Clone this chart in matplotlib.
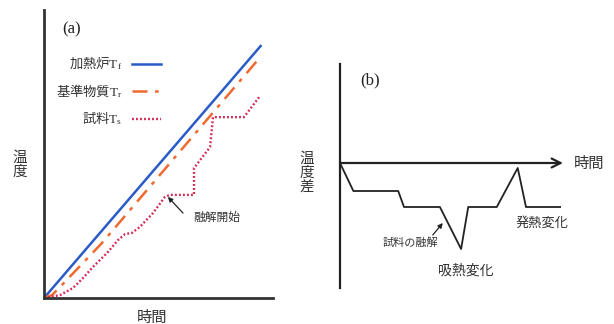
import matplotlib
matplotlib.use("Agg")
import matplotlib.pyplot as plt

plt.rcParams['font.family'] = ['Noto Sans CJK JP', 'DejaVu Sans']
plt.rcParams['mathtext.fontset'] = 'custom'
plt.rcParams['mathtext.rm'] = 'Liberation Serif'
plt.rcParams['mathtext.it'] = 'Liberation Serif:italic'

# (a) temperatures vs. time
furnace_t = [0, 94.6]
furnace_T = [0, 87.5]

reference_t = [0, 3.5, 8.3, 25.2, 94.6]
reference_T = [0, 1.0, 4.9, 19.0, 83.8]

sample_t = [0, 7.0, 12.7, 17.0, 21.4, 27.5, 32.3, 35.4, 38.4, 41.9, 47.6,
            52.8, 55.0, 65.5, 65.5, 72.5, 73.8, 87.3, 94.3]
sample_T = [0, 1.0, 3.5, 6.9, 10.8, 15.6, 20.1, 22.2, 22.6, 24.7, 29.5,
            35.1, 35.8, 35.8, 45.1, 52.4, 62.8, 62.8, 70.1]

labels_a = ["加熱炉$\\mathrm{T_f}$", "基準物質$\\mathrm{T_r}$", "試料$\\mathrm{T_s}$"]

# (b) temperature difference vs. time
dta_t = [0, 6.0, 26.1, 28.7, 44.8, 54.3, 57.5, 70.3, 79.7, 83.4, 98.7]
dta_dT = [0, -2.8, -2.8, -4.4, -4.4, -8.6, -4.4, -4.4, -0.5, -4.4, -4.4]

W, H = 614, 324
fig = plt.figure(figsize=(W / 100, H / 100), dpi=100)
fig.patch.set_facecolor('white')


def px_axes(x0, y0, x1, y1):
    return fig.add_axes([x0 / W, 1 - y1 / H, (x1 - x0) / W, (y1 - y0) / H])


axis_col = '#333333'

# ---------------- panel (a) ----------------
ax = px_axes(44, 10, 273, 298)
ax.set_xlim(0, 100)
ax.set_ylim(0, 100)
ax.plot(furnace_t, furnace_T, color='#2a5bc6', lw=1.8, label=labels_a[0])
ax.plot(reference_t, reference_T, color='#f06a30', lw=1.8,
        dashes=(6, 3, 1.5, 3), label=labels_a[1])
ax.plot(sample_t, sample_T, color='#d42a55', lw=1.7,
        dashes=(0.8, 0.9), label=labels_a[2])
for s in ['top', 'right']:
    ax.spines[s].set_visible(False)
for s in ['left', 'bottom']:
    ax.spines[s].set_color(axis_col)
    ax.spines[s].set_linewidth(2.0)
ax.set_xticks([])
ax.set_yticks([])
ax.patch.set_alpha(0)

leg = ax.legend(loc='upper left', bbox_to_anchor=(0.052, 0.845), frameon=False,
                markerfirst=False, handlelength=2.2, handletextpad=0.7,
                labelspacing=0.75, borderpad=0, borderaxespad=0,
                prop={'size': 9.6}, labelcolor='#333333')

ax.text(12.2, 93.4, "(a)", fontsize=12, family='Liberation Serif',
        ha='center', va='center', color='#222222')
ax.text(75.3, 27.8, "融解開始", fontsize=8.5, ha='center', va='center',
        color='#333333')
ax.annotate('', xy=(54.1, 35.1), xytext=(60.7, 29.5),
            arrowprops=dict(arrowstyle='-|>', color='#222222', lw=0.9,
                            mutation_scale=7, shrinkA=0, shrinkB=0))

fig.text(20 / W, 1 - 165 / H, "温\n度", fontsize=10.5, ha='center',
         va='center', linespacing=1.05, color='#333333')
fig.text(152 / W, 1 - 317 / H, "時間", fontsize=11, ha='center', va='center',
         color='#333333')

# ---------------- panel (b) ----------------
bx = px_axes(340, 64, 563, 288)
bx.set_xlim(0, 100)
bx.set_ylim(-12.5, 9.9)
bx.plot(dta_t, dta_dT, color='#222222', lw=1.3)
for s in ['top', 'right', 'bottom']:
    bx.spines[s].set_visible(False)
bx.spines['left'].set_color('#222222')
bx.spines['left'].set_linewidth(1.6)
bx.set_xticks([])
bx.set_yticks([])
bx.patch.set_alpha(0)
bx.annotate('', xy=(100, 0), xytext=(0, 0), annotation_clip=False,
            arrowprops=dict(arrowstyle='->', color='#222222', lw=1.6,
                            mutation_scale=16, shrinkA=0, shrinkB=0))

bx.text(13.5, 8.3, "(b)", fontsize=12, family='Liberation Serif',
        ha='center', va='center', color='#222222')
bx.text(111.7, 0, "時間", fontsize=11, ha='center', va='center',
        color='#333333', clip_on=False)
bx.text(31.4, -8.0, "試料の融解", fontsize=8, ha='center', va='center',
        color='#333333')
bx.text(56.5, -10.7, "吸熱変化", fontsize=10, ha='center', va='center',
        color='#333333')
bx.text(90.6, -6.0, "発熱変化", fontsize=9.5, ha='center', va='center',
        color='#333333', clip_on=False)
bx.annotate('', xy=(46.1, -6.0), xytext=(41.6, -7.2),
            arrowprops=dict(arrowstyle='-|>', color='#222222', lw=0.9,
                            mutation_scale=7, shrinkA=0, shrinkB=0))

fig.text(307 / W, 1 - 173 / H, "温\n度\n差", fontsize=10.5, ha='center',
         va='center', linespacing=1.0, color='#333333')

fig.savefig("out.png", dpi=100, facecolor='white')
